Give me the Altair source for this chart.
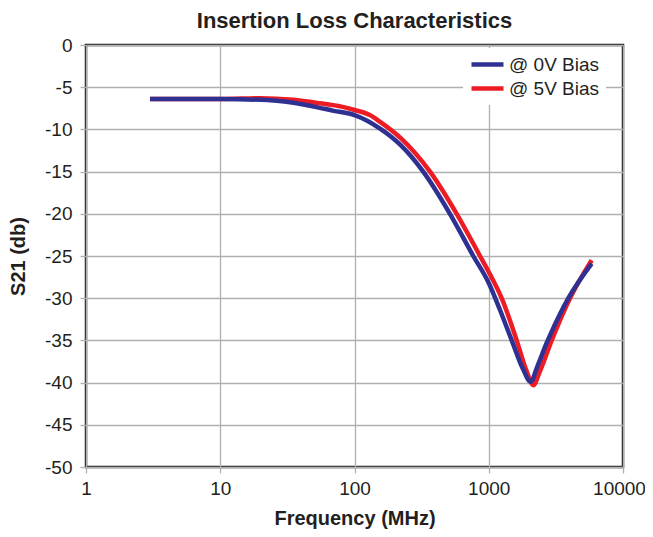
import altair as alt
import pandas as pd

freq_0v = [3, 10, 20, 30, 50, 70, 100, 155, 219, 325, 514, 767, 1000, 1213, 1483, 1800, 2052, 2300, 2700, 2860, 3916, 5846]
s21_0v = [-6.4, -6.4, -6.5, -6.7, -7.3, -7.8, -8.3, -9.9, -11.8, -15, -20, -25, -28.2, -31.4, -35, -38.4, -39.9, -38.1, -35.3, -34.4, -30, -25.9]

freq_5v = [3, 10, 20, 35, 55, 80, 100, 130, 155, 220, 365, 577, 861, 1000, 1248, 1615, 1900, 2148, 2400, 2944, 4029, 5846]
s21_5v = [-6.4, -6.4, -6.3, -6.5, -6.9, -7.3, -7.7, -8.3, -9.1, -11.0, -15, -20, -25, -26.9, -30, -35, -38.5, -40.3, -38.7, -35, -30, -25.5]

series_names = ["@ 0V Bias", "@ 5V Bias"]
series_colors = ["#2e3192", "#ed1c24"]
x_ticks = [1, 10, 100, 1000, 10000]
y_ticks = list(range(-50, 1, 5))

df0 = pd.DataFrame({"f": freq_0v, "s": s21_0v, "series": series_names[0]})
df5 = pd.DataFrame({"f": freq_5v, "s": s21_5v, "series": series_names[1]})

FONT = "Liberation Sans"

x_enc = alt.X("f:Q", scale=alt.Scale(type="log", domain=[1, 10000]),
              axis=alt.Axis(values=x_ticks, labelExpr="'' + datum.value",
                            title="Frequency (MHz)", grid=True, labelFlush=False,
                            labelOffset={"condition": {"test": "datum.value >= 10000", "value": -4},
                                         "value": 0}))
y_enc = alt.Y("s:Q", scale=alt.Scale(domain=[-50, 0], nice=False),
              axis=alt.Axis(values=y_ticks, labelExpr="'' + datum.value",
                            title="S21 (db)", grid=True))
color_enc = alt.Color("series:N",
                      scale=alt.Scale(domain=series_names, range=series_colors),
                      legend=alt.Legend(title=None, orient="none", legendX=377, legendY=3,
                                        symbolType="M-1,0H3", symbolSize=256,
                                        symbolStrokeWidth=4.5, labelFontSize=19,
                                        labelFont=FONT, labelColor="#231f20",
                                        labelOffset=19, fillColor="white",
                                        padding=6, rowPadding=3))

red = alt.Chart(df5).mark_line(strokeWidth=4.5, interpolate="monotone").encode(x=x_enc, y=y_enc, color=color_enc)
blue = alt.Chart(df0).mark_line(strokeWidth=4.5, interpolate="monotone").encode(x=x_enc, y=y_enc, color=color_enc)

chart = alt.layer(red, blue).properties(
    width=537, height=422,
    title=alt.TitleParams("Insertion Loss Characteristics", fontSize=22, font=FONT,
                          fontWeight="bold", color="#231f20", offset=3, anchor="middle"),
    autosize=alt.AutoSizeParams(type="none"),
    padding={"left": 78, "top": 37, "right": 22, "bottom": 62},
).configure_view(
    stroke="#231f20", strokeWidth=2.5
).configure_axis(
    domain=False, gridColor="#b0b0b0", gridWidth=1.3, gridOpacity=1,
    tickColor="#b0b0b0", tickSize=6, tickWidth=1.3,
    labelFont=FONT, labelFontSize=19, labelColor="#231f20", labelPadding=5,
    titleFont=FONT, titleFontSize=20, titleFontWeight="bold", titleColor="#231f20",
).configure_axisX(
    labelPadding=6, titlePadding=10,
).configure_axisY(
    labelPadding=8, titlePadding=16,
)

chart.save("out.html", embed_options={"renderer": "svg", "actions": False})
